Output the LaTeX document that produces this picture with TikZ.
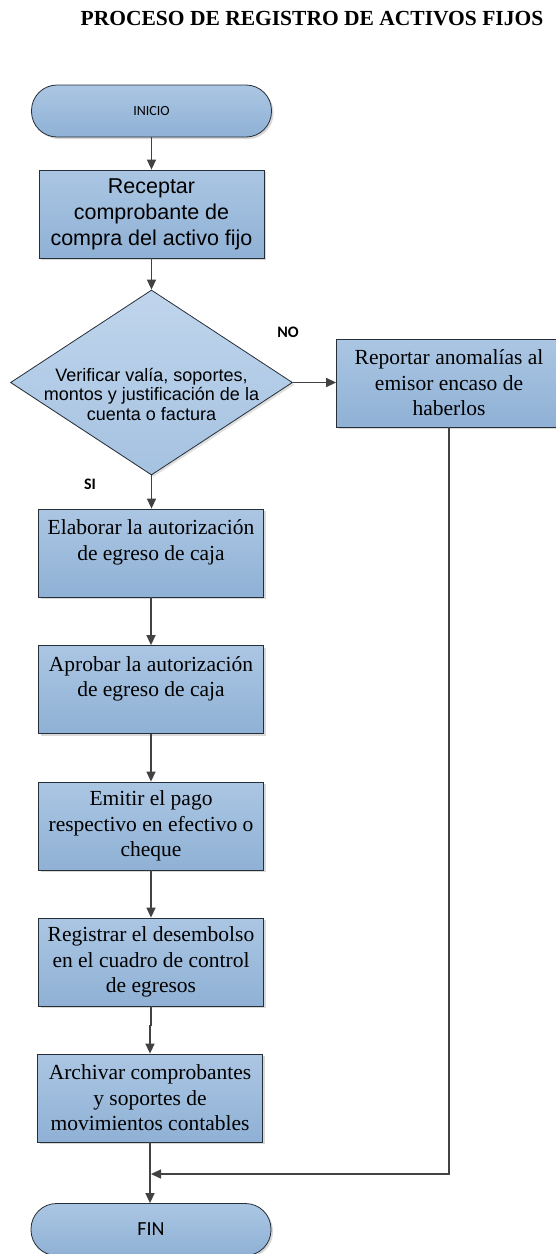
\documentclass[tikz,border=0pt]{standalone}
\usepackage{fontspec}
\setmainfont{Liberation Serif}
\newfontfamily\arialfont{Liberation Sans}
\newfontfamily\calibrifont{Carlito}
\usepackage{tikz}
\usetikzlibrary{positioning,arrows.meta,shapes.geometric,shadows}
\definecolor{boxtop}{RGB}{171,198,227}
\definecolor{boxbot}{RGB}{143,177,213}
\definecolor{diatop}{RGB}{192,213,236}
\definecolor{diabot}{RGB}{165,194,225}
\definecolor{edgegray}{RGB}{38,46,56}
\definecolor{arrowgray}{RGB}{66,66,66}

\begin{document}
\begin{tikzpicture}[x=1pt, y=-1pt,
  procbox/.style={rectangle, draw=edgegray, line width=0.8pt,
    minimum width=225pt, minimum height=88pt, inner sep=2pt, align=center,
    top color=boxtop, bottom color=boxbot,
    drop shadow={shadow xshift=2pt, shadow yshift=-2pt, fill=black!30},
    font=\fontsize{21.5}{25.5}\selectfont},
  termbox/.style={procbox, minimum width=240pt, minimum height=52pt,
    rounded corners=25.5pt},
  decision/.style={diamond, draw=edgegray, line width=0.8pt,
    minimum width=282pt, minimum height=185pt, inner sep=0pt,
    top color=diatop, bottom color=diabot,
    drop shadow={shadow xshift=2pt, shadow yshift=-2pt, fill=black!25}},
  diamtext/.style={align=center, inner sep=0pt,
    font=\arialfont\fontsize{18}{19.5}\selectfont},
  branchlbl/.style={font=\calibrifont\bfseries\fontsize{16}{18}\selectfont},
  flow/.style={draw=arrowgray, line width=1.4pt,
    -{Triangle[length=10pt,width=9pt]}}]
\useasboundingbox (0,0) rectangle (556,1254);
\clip (0,0) rectangle (556,1254);

\node[anchor=base, font=\bfseries\fontsize{21.5}{26}\selectfont] (titulo) at (312,25)
  {PROCESO DE REGISTRO DE ACTIVOS FIJOS};

\node[termbox, font=\calibrifont\fontsize{14}{16}\selectfont] (inicio) at (151.5,111) {INICIO};
\node[procbox, font=\arialfont\fontsize{21.5}{26}\selectfont] (recep) at (151.5,214)
  {Receptar\\comprobante de\\compra del activo fijo};
\node[decision] (verif) at (151.5,382.5) {};
\node[diamtext] (veriftxt) at (151.5,394)
  {Verificar valía, soportes,\\montos y justificación de la\\cuenta o factura};
\node[procbox] (report) at (449,383) {Reportar anomalías al\\emisor encaso de\\haberlos};
\node[procbox] (elab) at (151,553) {Elaborar la autorización\\de egreso de caja\\\mbox{}};
\node[procbox] (aprob) at (151,689.5) {Aprobar la autorización\\de egreso de caja\\\mbox{}};
\node[procbox] (emitir) at (151,826) {Emitir el pago\\respectivo en efectivo o\\cheque};
\node[procbox] (regis) at (151,962) {Registrar el desembolso\\en el cuadro de control\\de egresos};
\node[procbox] (archiv) at (150,1098) {Archivar comprobantes\\y soportes de\\movimientos contables};
\node[termbox, font=\calibrifont\fontsize{20}{22}\selectfont] (fin) at (151,1229.5) {FIN};

\node[branchlbl] (nolbl) at (288,332) {NO};
\node[branchlbl] (silbl) at (90,484) {SI};
\coordinate (merge) at (151,1174);

\draw[flow] (inicio) -- (recep);
\draw[flow] (recep) -- (verif);
\draw[flow] (verif.east) -- (verif.east -| report.west);
\draw[flow] (verif.south) -- (verif.south |- elab.north);
\draw[flow] (elab) -- (aprob);
\draw[flow] (aprob) -- (emitir);
\draw[flow] (emitir) -- (regis);
\draw[flow] (regis.south) -- ++(0,19) -| (archiv.north);
\draw[flow] (archiv.south) -- (archiv.south |- fin.north);
\draw[flow] (report.south) |- (merge);
\end{tikzpicture}
\end{document}
